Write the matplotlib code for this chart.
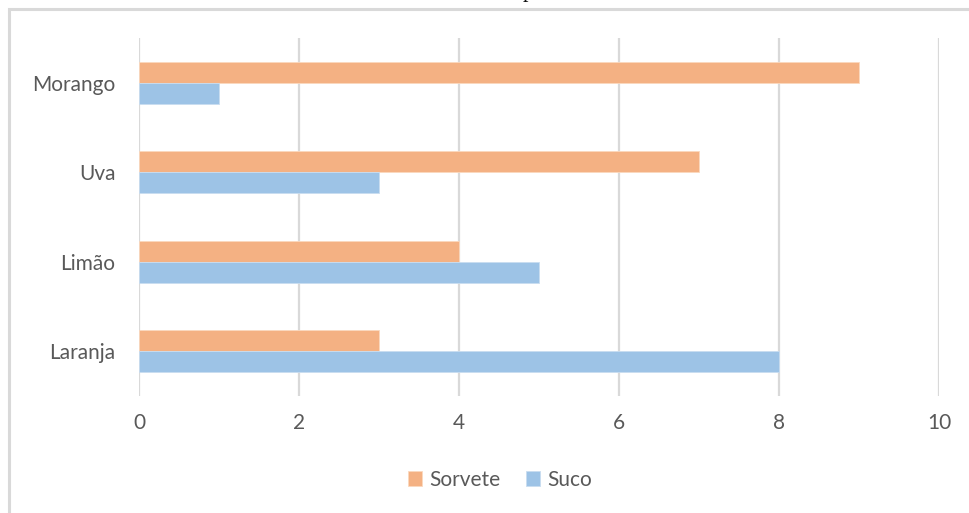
import matplotlib
matplotlib.use("Agg")
import matplotlib.pyplot as plt
from matplotlib.patches import Rectangle
import numpy as np

categories = ["Laranja", "Limão", "Uva", "Morango"]
sorvete = [3, 4, 7, 9]
suco = [8, 5, 3, 1]
xticks = [0, 2, 4, 6, 8, 10]

orange = "#F4B183"
blue = "#9DC3E6"
text_color = "#595959"
grid_color = "#D9D9D9"

plt.rcParams["font.family"] = ["Lato", "DejaVu Sans"]

W, H = 969, 513
fig = plt.figure(figsize=(W / 100, H / 100), dpi=100)

# chart frame (top and left edges visible)
fig.add_artist(Rectangle((9 / W, -0.1), 1.2, 1 - 9 / H + 0.1, transform=fig.transFigure,
                         fill=False, edgecolor=grid_color, linewidth=2.2))

# tail of the heading sitting above the chart
fig.text(528 / W, 1 + 3 / H, "p", family="Liberation Serif", fontsize=16,
         color="#111111", ha="center", va="baseline")

ax = fig.add_axes([139 / W, 1 - 396 / H, 800 / W, 358 / H])

y = np.arange(len(categories))
h = 0.235
ax.barh(y + h / 2, sorvete, height=h, color=orange, edgecolor="#FBD9BE", linewidth=0.6,
        label="Sorvete", zorder=3)
ax.barh(y - h / 2, suco, height=h, color=blue, edgecolor="#C9DDF0", linewidth=0.6,
        label="Suco", zorder=3)

ax.set_xlim(0, 10)
ax.set_ylim(-0.5, len(categories) - 0.5)
ax.set_xticks(xticks)
ax.set_xticklabels([str(t) for t in xticks])
ax.set_yticks(y)
ax.set_yticklabels(categories)
ax.tick_params(axis="both", length=0, colors=text_color, labelsize=15)
ax.tick_params(axis="y", pad=17)
ax.tick_params(axis="x", pad=12)
ax.grid(axis="x", color=grid_color, linewidth=1.6, zorder=0)
for s in ax.spines.values():
    s.set_visible(False)

handles, labels = ax.get_legend_handles_labels()
leg = fig.legend(handles, labels, loc="center", bbox_to_anchor=(500 / W, 1 - 480 / H),
                 ncol=2, frameon=False, fontsize=15, handlelength=0.7, handleheight=0.7,
                 handletextpad=0.35, columnspacing=1.2, labelcolor=text_color)

fig.savefig("out.png", dpi=100, facecolor="white")
